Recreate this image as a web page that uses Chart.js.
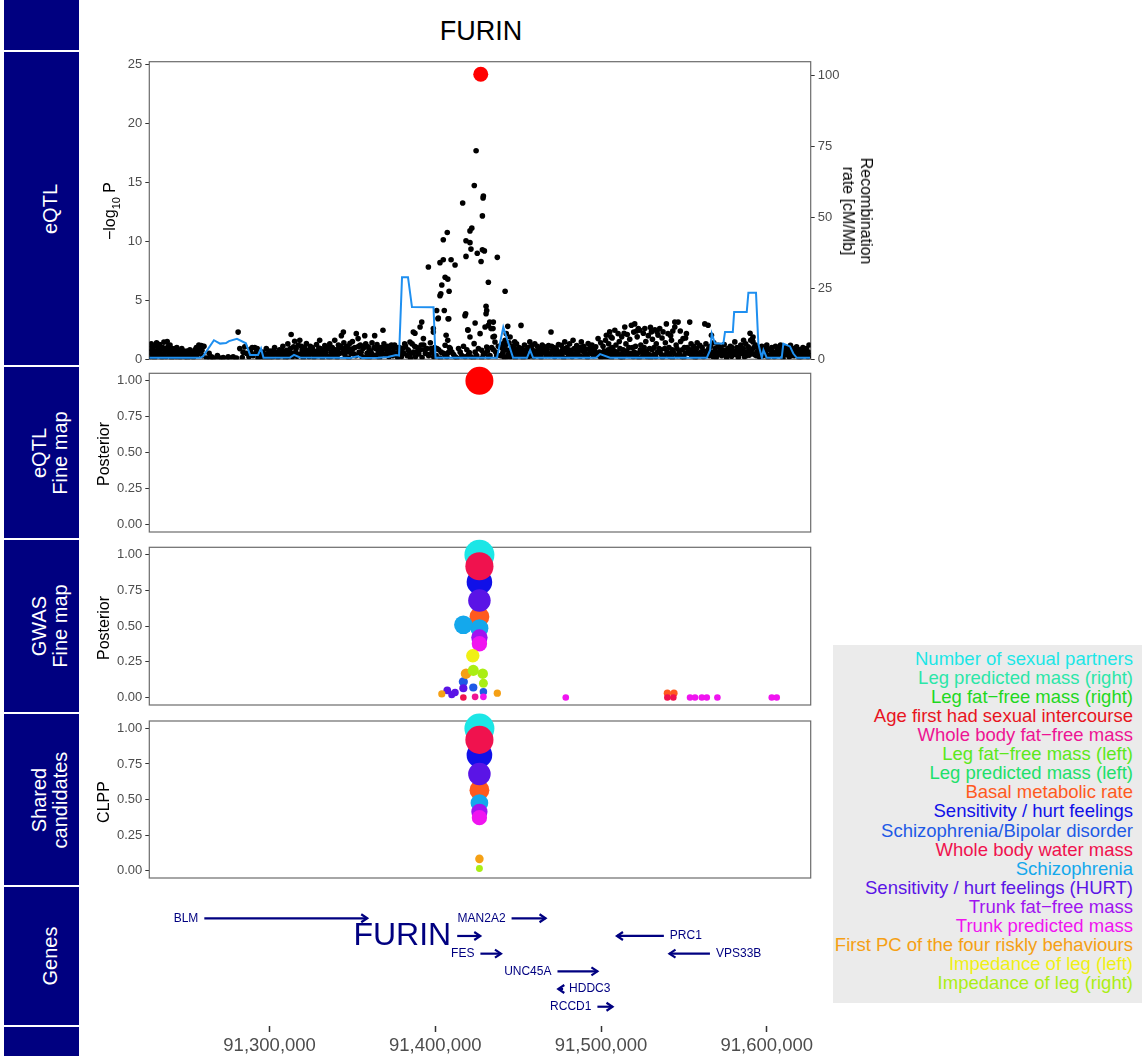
<!DOCTYPE html>
<html><head><meta charset="utf-8">
<script src="https://cdn.jsdelivr.net/npm/chart.js@4.4.1/dist/chart.umd.min.js"></script>
<style>
body{margin:0;background:#fff;}
#wrap{position:relative;width:1142px;height:1056px;overflow:hidden;font-family:"Liberation Sans",Arial,sans-serif;background:#fff;}
.cell{position:absolute;left:4px;width:75px;background:#000080;}
.cell span{position:absolute;left:46px;top:50%;transform:translate(-50%,-50%) rotate(-90deg);color:#fff;font-size:20px;white-space:nowrap;text-align:center;line-height:21px;}
canvas{position:absolute;}
.ttl{position:absolute;white-space:nowrap;color:#000;font-size:16px;text-align:center;line-height:18px;}
#legend{position:absolute;left:833px;top:645px;width:309px;height:358px;background:#EBEBEB;}
#legend div{position:absolute;right:9px;font-size:18.5px;line-height:19px;white-space:nowrap;}
#title{position:absolute;left:481px;top:31px;transform:translate(-50%,-50%);font-size:27px;color:#000;}
</style></head>
<body>
<div id="wrap">
  <div class="cell" style="top:0;height:50px"></div>
  <div class="cell" style="top:52px;height:313px"><span>eQTL</span></div>
  <div class="cell" style="top:367px;height:171px"><span>eQTL<br>Fine map</span></div>
  <div class="cell" style="top:540px;height:172px"><span>GWAS<br>Fine map</span></div>
  <div class="cell" style="top:714px;height:171px"><span>Shared<br>candidates</span></div>
  <div class="cell" style="top:887px;height:138px"><span>Genes</span></div>
  <div class="cell" style="top:1027px;height:29px"></div>
  <div id="title">FURIN</div>
  <canvas id="c1" width="835" height="330" style="left:85px;top:40px"></canvas>
  <canvas id="c2" width="835" height="193" style="left:85px;top:353px"></canvas>
  <canvas id="c3" width="835" height="193" style="left:85px;top:527px"></canvas>
  <canvas id="c4" width="835" height="192" style="left:85px;top:701px"></canvas>
  <canvas id="c5" width="835" height="176" style="left:85px;top:880px"></canvas>
  <div class="ttl" style="left:113px;top:211px;transform:translate(-50%,-50%) rotate(-90deg)">&minus;log<sub style="font-size:11px">10</sub> P</div>
  <div class="ttl" style="left:857px;top:211px;transform:translate(-50%,-50%) rotate(90deg)">Recombination<br>rate [cM/Mb]</div>
  <div class="ttl" style="left:104px;top:454px;transform:translate(-50%,-50%) rotate(-90deg)">Posterior</div>
  <div class="ttl" style="left:104px;top:628px;transform:translate(-50%,-50%) rotate(-90deg)">Posterior</div>
  <div class="ttl" style="left:104px;top:802px;transform:translate(-50%,-50%) rotate(-90deg)">CLPP</div>
  <div id="legend"></div>
</div>
<script>
// ---------------- DATA ----------------
const traits = ['Number of sexual partners','Leg predicted mass (right)','Leg fat\u2212free mass (right)','Age first had sexual intercourse','Whole body fat\u2212free mass','Leg fat\u2212free mass (left)','Leg predicted mass (left)','Basal metabolic rate','Sensitivity / hurt feelings','Schizophrenia/Bipolar disorder','Whole body water mass','Schizophrenia','Sensitivity / hurt feelings (HURT)','Trunk fat\u2212free mass','Trunk predicted mass','First PC of the four riskly behaviours','Impedance of leg (left)','Impedance of leg (right)'];
const traitColors = ['#1CE6E6','#2CE6A8','#1ED81E','#E8141E','#EE1493','#5CE81C','#1EE06A','#FF5A1E','#1010E8','#1E5AE6','#F0124E','#14A8EC','#5A14E6','#A014F0','#F014F0','#F5A014','#F0F014','#AAEE14'];

// eQTL SNPs: [position (kb), -log10 P]
const eqtlSnps = [
[91424.6,17.7],[91423.5,14.76],[91429.0,13.86],[91428.8,13.7],[91416.5,13.27],[91428.4,12.17],[91407.2,10.76],[91422.0,11.13],[91420.9,10.9],[91404.8,10.14],[91418.5,10.06],[91420.9,9.9],[91421.5,9.35],[91425.3,9.0],[91428.4,9.3],[91429.6,9.2],[91418.5,8.73],[91437.4,8.65],[91404.8,8.45],[91402.8,8.2],[91409.5,8.45],[91411.9,8.0],[91427.6,8.3],[91395.8,7.83],[91405.9,6.96],[91407.5,6.8],[91432.0,6.54],[91403.9,6.3],[91408.3,5.77],[91403.3,5.55],[91402.8,5.4],[91442.1,5.77],[91430.6,4.5],[91431.0,4.14],[91430.6,3.86],[91405.4,4.14],[91400.8,4.14],[91418.3,3.86],[91417.9,3.7],[91408.1,3.44],[91401.8,3.5],[91424.0,3.07],[91430.0,2.73],[91432.0,2.87],[91433.6,2.6],[91435.0,3.15],[91443.7,2.79],[91419.6,2.5],[91435.6,1.94],[91436.0,1.46],[91420.9,1.89],[91427.0,2.17],[91406.5,2.03],[91407.5,1.6],[91405.9,1.18],[91407.8,0.56],[91423.4,1.32],[91428.0,0.76],[91431.0,1.04],[91420.5,0.56],[91391.8,3.15],[91386.7,2.31],[91387.7,2.2],[91390.8,2.73],[91398.8,2.6],[91398.8,2.3],[91392.8,1.75],[91384.7,1.46],[91442.1,1.6],[91441.0,1.32],[91445.1,1.89],[91432.8,3.15],[91434.8,2.6],[91434.8,1.89],[91442.8,2.17],[91401.6,3.43],[91407.7,3.43],[91419.7,2.46],[91451.7,2.87],[91469.8,2.31],[91281,2.3],
[91228,0.2],[91228,0.9],[91228.6,1.3],[91229.2,0.5],[91229.8,1.1],[91230.5,0.1],[91231,0.7],[91231.8,1.4],[91232.4,0.3],[91233,0.9],[91233.6,1.25],[91234.3,0.5],[91235,0.15],[91235.5,1.0],[91236.2,1.45],[91236.8,0.6],[91237.5,0.2],[91238.2,1.5],[91238.8,1.1],[91239.5,0.4],[91240.2,0.8],[91240.9,0.1],[91241.5,0.55],[91242.3,0.3],[91243,0.9],[91243.7,0.2],[91244.4,0.6],[91245.2,0.35],[91246,0.15],[91246.8,0.5],[91247.5,0.3],[91248.3,0.7],[91249,0.2],[91249.8,0.45],[91250.6,0.1],[91251.5,0.4],[91252.3,0.25],[91253.2,0.6],[91254,0.15],[91255,0.8],[91255.8,1.0],[91256.5,0.4],[91257.3,1.2],[91258,0.9],[91258.8,1.15],[91259.6,0.3],[91260.4,1.1],
[91228.3,0.6],[91229.5,0.8],[91230.8,0.4],[91232,1.1],[91233.3,0.6],[91234.7,0.9],[91236,0.3],[91237.2,0.9],[91238.5,0.7],[91239.9,1.2],[91241.2,0.9],[91242.7,0.6],[91244,1.0],[91245.6,0.7],[91247,0.9],[91248.7,0.4],[91250.2,0.7],[91251.9,0.8],[91253.6,0.35],[91255.4,0.55],[91257,0.6],[91259.2,0.75],
[91262,0.1],[91263.5,0.5],[91265,0.2],[91267,0.05],[91268.5,0.3],[91270,0.1],[91272,0.15],[91274,0.05],[91276,0.1],[91278,0.2],[91279.5,0.05],[91282,0.9],[91283.5,0.15],[91285,1.05],[91286,0.5],[91287.5,0.2],[91288.5,0.85],[91290,0.3],[91291,1.0],[91292,0.6],[91293,0.1],[91294,0.4],
[91264,0.05],[91266,0.1],[91271,0.05],[91275,0.2],[91280,0.1],[91284,0.6],[91289,0.5],[91292.5,0.9],[91289.5,1.0],
[91295,0.2],[91296,0.6],[91297,0.1],[91298,0.9],[91299,0.35],[91300,0.05],[91301,0.7],[91302,0.2],[91303,1.0],[91304,0.45],[91305,0.15],[91306,0.8],[91307,0.3],[91308,1.1],[91308.8,0.55],[91309.5,0.1],[91310.3,0.75],[91311,1.3],[91311.8,0.4],[91312.5,0.9],[91313,2.1],[91313.8,0.2],[91314.5,1.05],[91315.1,1.53],[91315.8,0.6],[91316.5,0.25],[91317.3,1.2],[91318.2,1.6],[91318.9,0.45],[91319.6,0.8],[91320.3,0.1],[91321,1.0],[91321.7,0.35],[91322.2,1.33],[91323,0.7],[91323.8,0.2],[91324.5,1.1],[91325.3,0.5],[91326,0.85],[91326.8,0.15],[91327.5,0.6],[91328.3,1.25],[91329,0.3],[91329.7,0.95],[91330.2,1.6],[91331,0.5],[91331.8,0.1],[91332.5,0.75],[91333.3,1.15],[91334,0.4],[91334.8,0.9],[91335.5,0.2],[91336.3,1.3],[91337,0.6],[91337.8,1.0],[91338.5,0.3],[91339.3,1.6],[91340,0.8],[91340.8,0.15],[91341.5,1.2],[91342.3,0.5],[91343.3,2.0],[91344,0.9],[91344.5,2.3],[91344.8,1.4],[91345.5,0.35],[91346.3,1.1],[91347,0.65],[91347.8,0.1],[91348.5,1.35],[91349.3,0.8],[91350,1.5],[91350.8,0.45],[91351.5,1.0],[91352.3,2.17],[91353.4,1.75],[91354,0.6],[91354.8,1.2],[91355.5,0.25],[91356.3,0.9],[91357.4,2.0],[91358,1.3],[91358.8,0.5],[91359.5,1.05],[91360.3,0.15],[91361,0.7],[91361.8,1.4],[91362.5,0.35],[91363.4,2.0],[91364,0.9],[91364.8,1.25],[91365.5,0.55],[91366.3,0.1],[91367,1.0],[91367.8,0.7],[91368.4,2.46],[91369,1.3],[91369.8,0.4],[91370.5,0.85],[91371.3,1.1],[91372,0.2],[91372.8,0.6],[91373.5,1.2],[91374.3,0.3],[91375,0.9],[91375.8,0.5],[91376.5,1.0],[91377.3,0.15],[91378,0.7],[91378.8,0.4],
[91295.5,0.5],[91297.5,0.4],[91299.5,0.7],[91301.5,0.4],[91303.5,0.6],[91305.5,0.5],[91307.5,0.7],[91309,0.4],[91310.8,0.2],[91312,0.6],[91314,0.5],[91316,0.9],[91317.8,0.4],[91319.2,1.1],[91320.8,0.6],[91322.6,0.4],[91324,0.8],[91325.7,1.0],[91327.2,0.35],[91328.8,0.7],[91330.6,0.9],[91332,0.45],[91333.7,0.6],[91335.2,1.0],[91336.8,0.2],[91338.2,0.75],[91339.8,0.45],[91341.2,0.8],[91342.8,1.1],[91344.2,0.55],[91345.8,0.7],[91347.4,1.0],[91349,0.5],[91350.4,0.9],[91352,0.3],[91353.7,1.1],[91355.2,0.6],[91356.8,1.0],[91358.4,0.2],[91360,0.8],[91361.4,0.5],[91363,1.0],[91364.5,0.3],[91366,0.8],[91367.4,0.4],[91369.4,0.9],[91371,0.55],[91372.4,1.0],[91374,0.6],[91375.4,1.2],[91377,0.4],[91378.4,1.0],
[91379.5,0.2],[91380.3,0.9],[91381,0.5],[91382,1.1],[91383,0.3],[91384,0.7],[91385,0.1],[91386,1.3],[91387,0.6],[91388,0.2],[91389,1.0],[91390,0.45],[91391,0.8],[91392,0.15],[91393,1.2],[91394,0.5],[91395,0.9],[91396,0.3],[91397,1.4],[91398,0.6],[91399,0.2],
[91380,0.5],[91381.5,1.3],[91383.5,0.8],[91385.5,0.5],[91387.5,1.1],[91389.5,0.6],[91391.5,1.2],[91393.5,0.8],[91395.5,0.4],[91397.5,0.9],[91399.5,1.0],
[91400.5,0.3],[91402,0.8],[91403,0.1],[91405,0.5],[91407,0.2],[91409,0.9],[91411,0.4],[91413,0.1],[91415,0.6],[91418,0.2],[91420,0.4],[91423,0.1],[91425,0.3],[91428,0.1],[91430,0.5],[91432,0.2],[91435,0.8],[91437,0.3],
[91401,0.9],[91403.5,0.6],[91406,0.3],[91408.5,1.0],[91410,0.6],[91412,0.2],[91414,0.9],[91416,0.3],[91417,1.1],[91419,0.8],[91421.5,0.2],[91424,0.6],[91426,0.9],[91429,0.4],[91431.5,0.7],[91433,0.3],[91434,1.0],[91436.5,0.6],[91438,1.1],
[91439.5,0.3],[91440,1.0],[91440.8,0.6],[91441.5,0.15],[91442.3,1.2],[91443,0.8],[91443.8,0.4],[91444.5,1.4],[91445.3,0.2],[91446,0.9],[91446.8,1.1],[91447.5,0.5],[91447.9,1.47],[91448.3,0.1],[91449,1.3],[91449.8,0.7],[91450.5,1.0],
[91451.5,0.4],[91452.3,0.9],[91453,0.1],[91453.8,1.2],[91454.5,0.6],[91455.3,0.3],[91456,1.0],[91457,1.47],[91457.8,0.5],[91458.5,0.8],[91459.3,0.2],[91460,1.3],[91460.8,0.7],[91461.5,1.1],[91462.3,0.35],[91463,0.9],[91463.8,0.15],[91464.5,1.2],[91465.3,0.6],[91466,1.05],[91466.8,0.3],[91467.5,0.85],[91468.3,1.15],[91469,0.45],[91470.5,0.7],[91471.3,1.0],[91472,0.2],[91472.8,0.95],[91473.5,0.5],[91474.3,1.25],[91475,0.3],[91476,1.19],[91476.8,0.8],[91477.5,0.1],[91478.1,1.47],[91478.8,0.6],[91479.5,1.0],[91480.3,0.3],[91481,1.3],[91481.8,0.75],[91482.5,0.2],[91483.1,1.6],[91483.8,0.9],[91484.5,0.4],[91485.3,1.15],[91486,0.6],[91486.8,1.0],[91487.5,0.25],[91488.1,1.47],[91488.8,0.7],[91489.5,1.1],[91490.3,0.35],[91491,0.85],[91491.8,0.15],[91492.2,1.33],[91493,0.9],[91493.8,0.5],[91494.5,1.2],[91495.3,0.3],[91496,0.8],[91496.8,1.05],[91497.5,0.45],[91498.2,1.75],[91499,0.6],
[91440.3,0.4],[91441.8,0.8],[91443.3,0.2],[91444.8,0.7],[91446.3,0.45],[91447.8,0.9],[91449.3,0.5],[91450.8,0.3],[91452,0.7],[91453.4,0.5],[91455,0.8],[91456.5,0.25],[91458,1.1],[91459.7,0.6],[91461.2,0.4],[91462.7,0.7],[91464.2,0.5],[91465.8,0.9],[91467.2,0.6],[91468.8,0.3],[91470.2,1.1],[91471.8,0.5],[91473.2,0.8],[91474.7,0.6],[91476.4,0.4],[91478.4,0.9],[91480,0.7],[91481.4,0.5],[91483.4,0.45],[91485,0.8],[91486.4,0.3],[91488.4,1.0],[91490,0.6],[91491.4,0.4],[91493.4,0.7],[91495,0.9],[91496.4,0.5],[91498.5,0.3],
[91499.8,1.4],[91500.5,0.3],[91501.2,1.1],[91502,0.7],[91502.7,1.6],[91503.2,2.03],[91504,0.2],[91504.6,1.3],[91505.2,2.32],[91506,0.9],[91506.7,1.8],[91507.4,0.4],[91508.3,2.46],[91509,1.2],[91509.7,0.6],[91510.3,2.17],[91511,1.5],[91511.8,0.15],[91512.5,1.9],[91513.3,0.8],[91514.3,2.74],[91515,1.3],[91515.8,2.1],[91516.5,0.5],[91517.3,1.7],[91518.3,2.88],[91519,1.0],[91519.7,2.3],[91520.3,3.0],[91521,0.3],[91521.8,1.9],[91522.5,2.6],[91523.4,2.46],[91524,1.2],[91524.8,0.6],[91525.5,2.2],[91526.4,2.6],[91527,1.5],[91527.8,0.2],[91528.5,2.0],[91529.3,0.9],[91530.4,2.32],[91531,1.7],[91531.8,0.4],[91532.5,2.5],[91533.3,1.3],[91534.4,2.03],[91535.4,2.6],[91536,0.8],[91536.8,1.8],[91537.4,2.32],[91538,0.3],[91538.8,1.4],[91539.4,3.0],[91540.4,2.17],[91541,1.0],[91541.8,0.5],[91542.5,1.6],[91543.3,2.4],[91544.5,3.15],[91544.5,2.74],[91545.3,1.2],[91546.5,3.15],[91547.2,0.7],[91548,1.5],[91548.8,0.2],[91549.5,1.75],[91550.3,1.0],[91551.5,2.17],[91552.3,0.6],[91553.5,3.15],[91554.3,1.3],[91555,0.4],[91555.8,1.1],[91556.5,0.8],[91557.3,0.2],[91558,1.4],[91558.8,0.5],[91559.6,1.19],
[91500,0.1],[91503,0.5],[91506.3,0.1],[91509.5,0.35],[91513,0.1],[91517,0.3],[91520,0.6],[91523,0.1],[91527,0.4],[91530,0.1],[91534,0.6],[91537,0.15],[91540,0.45],[91543,0.1],[91546,0.3],[91550,0.15],[91553,0.5],[91556.8,0.1],
[91501.5,0.6],[91502.4,0.2],[91504.3,0.8],[91505.6,0.5],[91507,1.0],[91508,0.7],[91510,0.4],[91511.4,0.9],[91512.8,0.5],[91514,0.3],[91515.4,0.7],[91516.8,1.0],[91518,0.5],[91519.4,0.2],[91520.8,1.1],[91522,0.5],[91523.7,0.8],[91525.2,0.3],[91526,1.0],[91527.4,0.7],[91529,0.4],[91530.8,0.8],[91532,1.0],[91533,0.2],[91535,0.9],[91536.4,0.4],[91538.4,0.9],[91539.8,0.6],[91541.4,0.25],[91543,0.8],[91544,0.5],[91545.8,0.9],[91547.6,0.4],[91549,0.8],[91550.8,0.5],[91552,1.0],[91553.8,0.8],[91554.7,0.3],[91556.2,0.6],[91557.7,0.9],[91559.2,0.3],
[91505.9,1.9],[91513.9,2.2],[91521.4,2.4],[91529.8,2.7],[91533.8,2.3],[91542,2.0],[91547.8,2.4],[91551,1.8],
[91560.3,0.6],[91561,1.0],[91561.8,0.2],[91562.6,3.0],[91563.3,1.3],[91564,0.7],[91564.6,2.88],[91565.3,0.3],[91566,1.1],[91566.6,2.03],[91567.3,0.5],[91568,1.4],[91568.8,0.9],[91569.5,0.15],[91570.6,1.19],[91571.3,0.6],[91572,1.0],[91572.8,0.3],[91573.5,0.8],[91574.3,1.25],[91575,0.4],[91575.8,0.1],[91576.5,0.9],[91577.3,0.5],[91578,1.1],[91578.8,0.25],[91579.5,0.7],[91580.7,1.47],[91581.3,0.4],[91582,1.0],[91582.8,0.15],[91583.5,0.8],[91584.3,1.2],[91585,0.5],[91585.8,0.9],[91586.5,0.2],[91587.3,1.3],[91588,0.6],[91588.8,1.05],[91589.5,0.35],[91590.3,1.6],[91591,0.8],[91591.7,1.89],[91591.7,1.47],[91592.5,0.4],[91593.3,1.2],[91594,0.6],[91594.8,1.0],[91595.5,0.2],
[91560.7,0.3],[91562,0.7],[91563.6,0.4],[91565,0.9],[91566.3,0.6],[91567.7,0.2],[91569,0.6],[91570.2,0.4],[91571.7,0.9],[91573.2,0.5],[91574.7,0.7],[91576.2,0.3],[91577.7,0.8],[91579,1.0],[91580.3,0.5],[91581.7,0.7],[91583.2,0.4],[91584.7,0.9],[91586.2,0.6],[91587.7,0.3],[91589.2,0.8],[91590.7,0.5],[91592.2,1.0],[91593.7,0.3],[91595.2,0.7],[91586,1.6],[91589.9,2.2],[91591.2,1.7],
[91596.3,0.7],[91597,1.1],[91597.8,0.3],[91598.5,0.9],[91599.3,0.5],[91600,1.2],[91600.8,0.15],[91601.5,0.8],[91602.3,0.4],[91603,1.0],[91603.8,0.6],[91604.5,0.2],[91605.3,1.1],[91606,0.7],[91606.8,0.35],[91607.5,0.9],[91608.3,1.2],[91609,0.5],[91609.8,0.1],[91610.5,0.8],[91611.3,1.0],[91612,0.4],[91612.8,0.7],[91613.5,0.2],[91614.3,1.19],[91615,0.6],[91615.8,0.9],[91616.5,0.3],[91617.3,0.77],[91618,1.05],[91618.8,0.45],[91619.5,0.15],[91620.3,0.8],[91621,0.5],[91621.8,1.0],[91622.5,0.3],[91623.3,0.6],[91624,0.9],[91624.8,0.2],[91625.5,1.2],
[91596.7,0.4],[91598.2,0.6],[91599.7,0.9],[91601.2,0.3],[91602.7,0.8],[91604.2,0.5],[91605.7,0.3],[91607.2,0.6],[91608.7,0.8],[91610.2,0.4],[91611.7,0.6],[91613.2,0.9],[91614.7,0.3],[91616.2,0.7],[91617.7,0.4],[91619.2,0.8],[91620.7,0.2],[91622.2,0.7],[91623.7,0.4],[91625.2,0.6],[91626,0.3]
];
// lead eQTL variant [position kb, -log10 P]
const eqtlLead = [[91427.4, 24.2]];
// recombination rate [position kb, cM/Mb]
const recombRate = [[91227.4,0.5],[91258.0,0.5],[91259.8,1.0],[91266.4,6.7],[91270.1,5.5],[91273.7,5.7],[91275.5,6.4],[91280.3,7.2],[91285.7,5.6],[91288.2,1.5],[91293.0,1.5],[91294.8,3.8],[91296.3,0.5],[91312.3,0.6],[91314.7,1.5],[91318.3,0.6],[91342.4,0.5],[91348.5,0.4],[91353.3,1.0],[91355.8,0.4],[91365.4,0.5],[91371.4,0.8],[91376.3,1.5],[91378.1,1.3],[91379.9,28.9],[91383.5,28.9],[91385.9,18.4],[91398.9,18.3],[91400.1,0.5],[91437.2,0.5],[91441.0,11.3],[91446.9,0.5],[91455.3,0.5],[91457.2,3.2],[91459.0,0.5],[91497.0,0.5],[91499.4,1.8],[91505.4,0.5],[91563.8,0.5],[91565.8,3.2],[91566.8,9.0],[91568.8,5.5],[91573.8,5.5],[91574.8,9.6],[91579.5,9.6],[91580.3,16.6],[91587.9,16.6],[91588.9,23.4],[91593.5,23.4],[91594.9,5.5],[91597.0,0.5],[91598.0,3.2],[91600.0,0.5],[91609.0,0.5],[91610.0,5.5],[91614.0,4.5],[91616.0,2.0],[91618.1,0.5],[91626.1,0.5]];
// eQTL fine-map posterior [position kb, posterior]
const eqtlFine = [[91426.6, 1.0]];
// GWAS fine-map posterior: [trait index, position kb, posterior]
const gwasFine = [
[0,91426.6,1.0],
[7,91426.6,0.566],[7,91540.0,0.03],[7,91544.0,0.03],
[8,91426.6,0.81],
[9,91416.9,0.11],[9,91422.9,0.07],[9,91429.0,0.04],
[10,91426.6,0.92],[10,91416.9,0.0],[10,91540.0,0.0],[10,91543.6,0.0],
[11,91426.6,0.486],[11,91416.9,0.509],
[12,91426.6,0.68],[12,91407.2,0.05],[12,91409.9,0.02],[12,91411.9,0.035],[12,91416.9,0.065],
[13,91426.6,0.42],
[14,91426.6,0.377],[14,91429.0,0.005],[14,91478.7,0],[14,91553.7,0],[14,91556.7,0],[14,91560.8,0],[14,91563.8,0],[14,91570.2,0],[14,91603.0,0],[14,91606.0,0],
[4,91424.0,0.005],
[15,91418.5,0.167],[15,91403.9,0.025],[15,91437.4,0.03],
[16,91422.6,0.292],
[17,91422.9,0.19],[17,91428.6,0.167],[17,91429.0,0.10]
];
// shared candidates CLPP: [trait index, position kb, CLPP]
const clpp = [[0,91426.6,1.0],[7,91426.6,0.566],[8,91426.6,0.813],[10,91426.6,0.92],[11,91426.6,0.475],[12,91426.6,0.68],[13,91426.6,0.413],[14,91426.6,0.372],[15,91426.6,0.082],[17,91426.6,0.014]];
// genes
const geneNames  = ['BLM','MAN2A2','FURIN','PRC1','FES','VPS33B','UNC45A','HDDC3','RCCD1'];
const geneStart  = [91260.6,91446.0,91413.2,91509.6,91427.2,91541.3,91473.7,91474.2,91497.8];
const geneEnd    = [91358.9,91466.5,91427.1,91537.9,91439.6,91565.7,91497.8,91477.1,91506.9];
const geneStrand = [1,1,1,-1,1,-1,1,-1,1];
const geneRow    = [0,0,1,1,2,2,3,4,5];
const focusGene = 'FURIN';
// tick labels
const xTicks = [91300,91400,91500,91600];
const eqtlTicks = [0,5,10,15,20,25];
const recombTicks = [0,25,50,75,100];
const probTicks = [0,0.25,0.5,0.75,1.0];

// ---------------- LAYOUT / STYLE ----------------
const XMIN = 91227.4, XMAX = 91626.5;
const NAVY = '#000080';
const FONT = '"Liberation Sans", Arial, sans-serif';
const tickFont = {family: FONT, size: 13};
const AXW = 64.3, RPAD = 109.3;

const boxPlugin = {
  id: 'box',
  beforeDatasetsDraw(chart) {
    const a = chart.chartArea, ctx = chart.ctx;
    ctx.save(); ctx.strokeStyle = '#6b6b6b'; ctx.lineWidth = 1.2;
    ctx.strokeRect(a.left, a.top, a.right - a.left, a.bottom - a.top);
    ctx.restore();
  }
};

function yAxis(min, max, ticks, fmt, pos, width) {
  return {
    type: 'linear', position: pos || 'left', min: min, max: max,
    afterBuildTicks: s => { s.ticks = ticks.map(v => ({value: v})); },
    afterFit: s => { s.width = width || AXW; },
    grid: {drawOnChartArea: false, drawTicks: true, tickLength: 4, tickColor: '#333', tickWidth: 1},
    border: {display: false},
    ticks: {font: tickFont, color: '#4D4D4D', padding: 3, callback: fmt || (v => v)}
  };
}
const xHidden = {type: 'linear', min: XMIN, max: XMAX, display: false};
const base = (pad) => ({
  responsive: false, animation: false, events: [],
  layout: {padding: pad},
  plugins: {legend: {display: false}, tooltip: {enabled: false}}
});
const pts = arr => arr.map(p => ({x: p[0], y: p[1]}));
const rad = v => 3.3 + 11.7 * v;

// ---- eQTL panel ----
new Chart(document.getElementById('c1'), {
  type: 'scatter',
  data: {datasets: [
    {data: pts(eqtlLead), backgroundColor: '#FF0000', pointRadius: 7.5, borderWidth: 0, clip: false, order: 0},
    {data: pts(recombRate), yAxisID: 'y1', showLine: true, borderColor: '#1E8FF0', borderWidth: 2, pointRadius: 0, tension: 0, order: 1},
    {data: pts(eqtlSnps), backgroundColor: '#000', pointRadius: 2.8, borderWidth: 0, order: 2}
  ]},
  options: Object.assign(base({top: 21.7, bottom: 9.3, left: 0, right: 0}), {
    scales: {
      x: xHidden,
      y: yAxis(0, 25.27, eqtlTicks),
      y1: yAxis(0, 104.9, recombTicks, v => v, 'right', RPAD)
    }
  }),
  plugins: [boxPlugin]
});

// ---- probability panels ----
function probChart(id, datasets, padTop, padBottom) {
  new Chart(document.getElementById(id), {
    type: 'scatter',
    data: {datasets: datasets},
    options: Object.assign(base({top: padTop, bottom: padBottom, left: 0, right: RPAD}), {
      scales: {x: xHidden, y: yAxis(-0.0527, 1.0527, probTicks, v => v.toFixed(2))}
    }),
    plugins: [boxPlugin]
  });
}
function traitSets(rows) {
  return traits.map((t, i) => {
    const r = rows.filter(p => p[0] === i);
    return {
      label: t, data: r.map(p => ({x: p[1], y: p[2]})),
      backgroundColor: traitColors[i], borderWidth: 0, clip: false,
      pointRadius: r.map(p => rad(p[2])), order: traits.length - i
    };
  }).filter(d => d.data.length);
}
probChart('c2', [{data: pts(eqtlFine), backgroundColor: '#FF0000', borderWidth: 0, pointRadius: 14, clip: false}], 20.3, 193 - (534 - 353));
probChart('c3', traitSets(gwasFine), 20.3, 193 - (708.3 - 527));
probChart('c4', traitSets(clpp), 20, 192 - (881 - 701));

// ---- gene track ----
const genePlugin = {
  id: 'genes',
  afterDatasetsDraw(chart) {
    const ctx = chart.ctx, x = chart.scales.x, y = chart.scales.y;
    ctx.save();
    geneNames.forEach((g, i) => {
      const x0 = x.getPixelForValue(geneStart[i]), x1 = x.getPixelForValue(geneEnd[i]);
      const yy = y.getPixelForValue(geneRow[i]);
      const fwd = geneStrand[i] > 0, tip = fwd ? x1 : x0, d = fwd ? 1 : -1;
      ctx.strokeStyle = NAVY; ctx.lineWidth = 2.2; ctx.lineJoin = 'miter'; ctx.lineCap = 'butt';
      ctx.beginPath(); ctx.moveTo(tip - d * 6, yy - 4); ctx.lineTo(tip, yy); ctx.lineTo(tip - d * 6, yy + 4); ctx.stroke();
      ctx.fillStyle = NAVY; ctx.textBaseline = 'middle';
      ctx.font = (g === focusGene ? '32px ' : '12px ') + FONT;
      if (fwd) { ctx.textAlign = 'right'; ctx.fillText(g, x0 - 6, yy); }
      else { ctx.textAlign = 'left'; ctx.fillText(g, x1 + 6, yy); }
    });
    ctx.restore();
  }
};
new Chart(document.getElementById('c5'), {
  type: 'scatter',
  data: {datasets: geneNames.map((g, i) => ({
    data: [{x: geneStart[i], y: geneRow[i]}, {x: geneEnd[i], y: geneRow[i]}],
    showLine: true, borderColor: NAVY, borderWidth: 2.2, pointRadius: 0, clip: false
  }))},
  options: Object.assign(base({top: 20.6, bottom: 0, left: AXW, right: RPAD}), {
    scales: {
      x: {type: 'linear', min: XMIN, max: XMAX,
        afterBuildTicks: s => { s.ticks = xTicks.map(v => ({value: v})); },
        afterFit: s => { s.height = 30; },
        grid: {drawOnChartArea: false, drawTicks: true, tickLength: 6, tickColor: '#333', tickWidth: 1.5},
        border: {display: false},
        ticks: {font: {family: FONT, size: 18.5}, color: '#4D4D4D', padding: 3, autoSkip: false, maxRotation: 0,
          callback: v => (v * 1000).toLocaleString('en-US')}},
      y: {type: 'linear', min: -1, max: 6.09, reverse: true, display: false}
    }
  }),
  plugins: [genePlugin]
});

// ---- legend ----
const lg = document.getElementById('legend');
traits.forEach((t, i) => {
  const d = document.createElement('div');
  d.textContent = t; d.style.color = traitColors[i];
  d.style.top = (13.3 + 19.08 * i - 9.5) + 'px';
  lg.appendChild(d);
});
</script>
</body></html>
